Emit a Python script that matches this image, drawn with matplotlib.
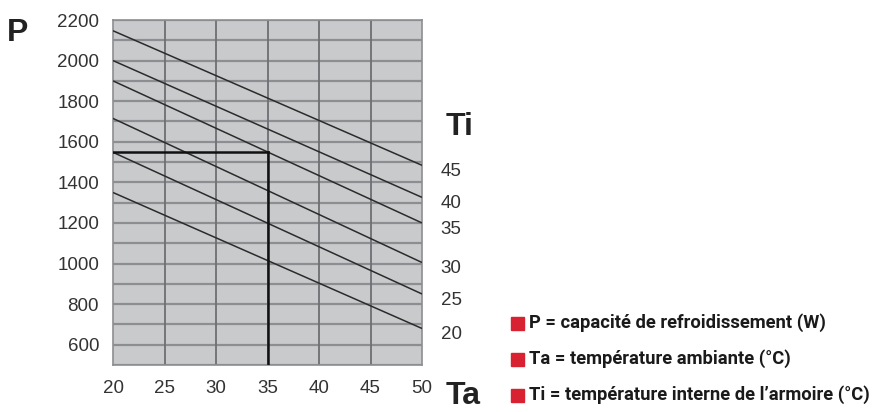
import matplotlib
matplotlib.use("Agg")
import matplotlib.pyplot as plt
import numpy as np

# Ambient temperature range (x) and cooling capacity at each end for every internal temperature
ta_range = [20, 50]
ti_values = [45, 40, 35, 30, 25, 20]
p_at_20 = [2147, 2000, 1900, 1715, 1548, 1350]
p_at_50 = [1484, 1326, 1200, 1005, 850, 680]

# Worked example: Ta = 35 °C, Ti = 35 °C -> P = 1550 W
example_ta = 35
example_p = 1550

x_ticks = [20, 25, 30, 35, 40, 45, 50]
y_ticks = [600, 800, 1000, 1200, 1400, 1600, 1800, 2000, 2200]

legend_items = [
    "P = capacité de refroidissement (W)",
    "Ta = température ambiante (°C)",
    "Ti = température interne de l’armoire (°C)",
]

W, H = 874, 412
fig = plt.figure(figsize=(W / 100, H / 100), dpi=100)
ax = fig.add_axes([113 / W, 1 - 365 / H, (422 - 113) / W, (365 - 20) / H])

ax.set_facecolor("#c9cacc")
ax.set_xlim(20, 50)
ax.set_ylim(500, 2200)

# grid
for yv in np.arange(500, 2201, 100):
    ax.axhline(yv, color="#8d8e91", lw=1.6, zorder=1)
for xv in x_ticks[1:-1]:
    ax.axvline(xv, color="#6e6f72", lw=1.3, zorder=1)

for s in ax.spines.values():
    s.set_color("#8d8e91")
    s.set_linewidth(1.2)

# characteristic lines
for ti, p0, p1 in zip(ti_values, p_at_20, p_at_50):
    ax.plot(ta_range, [p0, p1], color="#2b2b2b", lw=1.1, zorder=3, solid_capstyle="butt")
    ax.annotate(str(ti), xy=(50, p1), xytext=(21, -4.5), textcoords="offset points",
                ha="center", va="center", fontsize=13.5, color="#333333",
                family="Liberation Sans", annotation_clip=False)

# worked example
ax.plot([20, example_ta], [example_p, example_p], color="#111111", lw=1.8, zorder=4)
ax.plot([example_ta, example_ta], [500, example_p], color="#111111", lw=1.8, zorder=4)

ax.set_xticks(x_ticks)
ax.set_yticks(y_ticks)
ax.tick_params(length=0, labelsize=13.5, labelcolor="#333333")
ax.tick_params(axis="x", pad=11)
ax.tick_params(axis="y", pad=10)
for lab in ax.get_xticklabels() + ax.get_yticklabels():
    lab.set_family("Liberation Sans")

# axis titles
fig.text(18 / W, 1 - 33 / H, "P", fontsize=23, fontweight="bold", color="#222222",
         family="Liberation Sans", ha="center", va="center")
fig.text(460 / W, 1 - 127 / H, "Ti", fontsize=23, fontweight="bold", color="#222222",
         family="Liberation Sans", ha="center", va="center")
fig.text(463 / W, 1 - 404 / H, "Ta", fontsize=23, fontweight="bold", color="#222222",
         family="Liberation Sans", ha="center", va="baseline")

# legend
for i, txt in enumerate(legend_items):
    yc = 323 + i * 36
    fig.patches.append(plt.Rectangle((511 / W, 1 - (yc + 6.5) / H), 13 / W, 13 / H,
                                     transform=fig.transFigure, color="#d92231"))
    fig.text(529 / W, 1 - yc / H, txt, fontsize=13.2, fontweight="bold", color="#1a1a1a",
             family="Roboto", ha="left", va="center")

fig.savefig("out.png", dpi=100)
